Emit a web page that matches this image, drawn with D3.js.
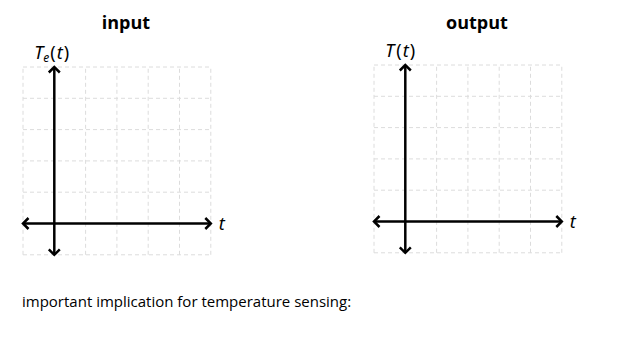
<!DOCTYPE html>
<meta charset="utf-8">
<style>
 body { margin: 0; background: #fff; }
 .title { font: bold 18px "Open Sans", sans-serif; text-anchor: middle; }
 .math { font: italic 18px "Noto Sans", sans-serif; }
 .grid line { stroke: #dcdcdc; stroke-width: 1px; stroke-dasharray: 4,3; }
 .axis { stroke: #000; stroke-width: 2.5px; fill: none; }
 .note { font: 15px "Open Sans", sans-serif; }
</style>
<svg class="chart"></svg>
<script src="https://cdn.jsdelivr.net/npm/d3@7"></script>
<script>
 var width = 618, height = 362;

 // grid runs one cell left/below the origin, five cells right/above
 var gridTicks = [-1, 0, 1, 2, 3, 4, 5];
 var panelNames = ["input", "output"];
 var yLabels = [["T", "e"], ["T", ""]];
 var panelLeft = [23, 374];
 var panelTop = [67, 65];
 var cell = 31.3;

 var svg = d3.select(".chart").attr("width", width).attr("height", height);

 panelNames.forEach(function(name, i) {
     var x = d3.scaleLinear().domain([-1, 5]).range([panelLeft[i], panelLeft[i] + 6 * cell]);
     var y = d3.scaleLinear().domain([-1, 5]).range([panelTop[i] + 6 * cell, panelTop[i]]);

     var g = svg.append("g");

     var grid = g.append("g").attr("class", "grid");
     grid.selectAll(".v").data(gridTicks).enter().append("line")
         .attr("x1", function(d) { return x(d); }).attr("x2", function(d) { return x(d); })
         .attr("y1", y(-1)).attr("y2", y(5));
     grid.selectAll(".h").data(gridTicks).enter().append("line")
         .attr("y1", function(d) { return y(d); }).attr("y2", function(d) { return y(d); })
         .attr("x1", x(-1)).attr("x2", x(5));

     // axes
     var a = 5.5;
     g.append("path").attr("class", "axis")
         .attr("d", "M" + x(-1) + "," + y(0) + "H" + x(5));
     g.append("path").attr("class", "axis")
         .attr("d", "M" + x(0) + "," + y(-1) + "V" + y(5));
     // arrowheads
     g.append("path").attr("class", "axis")
         .attr("d", "M" + (x(-1) + a) + "," + (y(0) - a) + "L" + x(-1) + "," + y(0) + "L" + (x(-1) + a) + "," + (y(0) + a)
              + "M" + (x(5) - a) + "," + (y(0) - a) + "L" + x(5) + "," + y(0) + "L" + (x(5) - a) + "," + (y(0) + a)
              + "M" + (x(0) - a) + "," + (y(5) + a) + "L" + x(0) + "," + y(5) + "L" + (x(0) + a) + "," + (y(5) + a)
              + "M" + (x(0) - a) + "," + (y(-1) - a) + "L" + x(0) + "," + y(-1) + "L" + (x(0) + a) + "," + (y(-1) - a));

     g.append("text").attr("class", "title")
         .attr("x", x(2) + 9).attr("y", 29).text(name);

     var lab = g.append("text").attr("class", "math")
         .attr("x", x(0) - 20).attr("y", panelTop[i] - 8);
     lab.append("tspan").text(yLabels[i][0]);
     if (yLabels[i][1]) {
         lab.append("tspan").attr("dy", 3).attr("font-size", 12).text(yLabels[i][1]);
         lab.append("tspan").attr("dy", -3).attr("dx", 1).attr("font-style", "normal").text("(");
     } else {
         lab.append("tspan").attr("dx", 2).attr("font-style", "normal").text("(");
     }
     lab.append("tspan").attr("dx", 1).text("t");
     lab.append("tspan").attr("dx", 1).attr("font-style", "normal").text(")");

     g.append("text").attr("class", "math")
         .attr("x", x(5) + 8).attr("y", y(0) + 6).text("t");
 });

 svg.append("text").attr("class", "note")
     .attr("x", 22).attr("y", 307)
     .text("important implication for temperature sensing:");
</script>
